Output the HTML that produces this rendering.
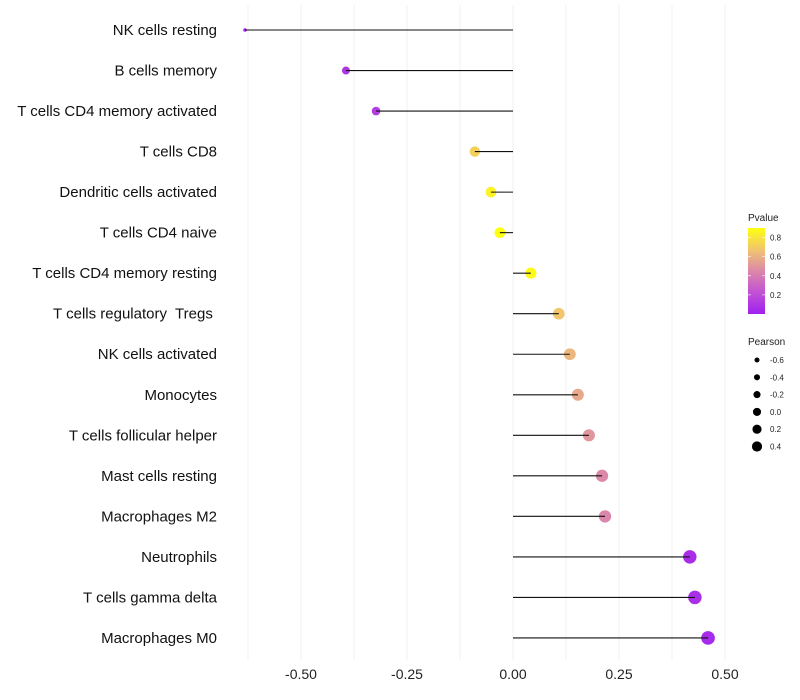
<!DOCTYPE html>
<html><head><meta charset="utf-8"><style>
body{margin:0;background:#fff;font-family:"Liberation Sans",sans-serif}
svg{display:block}
</style></head><body>
<svg id="chart" width="800" height="700">
<defs><linearGradient id="pg" x1="0" y1="1" x2="0" y2="0">
<stop offset="0" stop-color="#a020f0"/><stop offset="0.28" stop-color="#c558d0"/><stop offset="0.5" stop-color="#dc88a8"/><stop offset="0.72" stop-color="#efbe78"/><stop offset="1" stop-color="#ffff10"/>
</linearGradient></defs>
<g id="grid"></g><g id="pts"></g><g id="segs"></g><g id="labels"></g><g id="ticks"></g>
<g>
<text x="748" y="221" font-size="10" fill="#222">Pvalue</text>
<rect x="748" y="228" width="17" height="86" fill="url(#pg)"/>
<g id="pleg"></g>
<text x="748" y="345" font-size="10" fill="#222">Pearson</text>
<g id="sleg"></g>
</g>
</svg>
<script>
const cells=["NK cells resting","B cells memory","T cells CD4 memory activated","T cells CD8","Dendritic cells activated","T cells CD4 naive","T cells CD4 memory resting","T cells regulatory  Tregs ","NK cells activated","Monocytes","T cells follicular helper","Mast cells resting","Macrophages M2","Neutrophils","T cells gamma delta","Macrophages M0"];
const pearson=[-0.632,-0.394,-0.323,-0.090,-0.052,-0.031,0.042,0.108,0.134,0.153,0.179,0.210,0.217,0.417,0.429,0.460];
const pvalue=[0.02,0.1,0.12,0.72,0.85,0.9,0.88,0.68,0.62,0.57,0.5,0.45,0.44,0.06,0.07,0.05];
const xTicks=[-0.5,-0.25,0,0.25,0.5];
const xTickLabels=["-0.50","-0.25","0.00","0.25","0.50"];
const pTicks=[0.2,0.4,0.6,0.8];
const sizeTicks=[-0.6,-0.4,-0.2,0.0,0.2,0.4];
const NS="http://www.w3.org/2000/svg";
const xS=v=>513+v*424;
const yS=i=>30+i*40.53;
const rS=v=>v<-0.55?1.8:Math.sqrt(Math.max(3,16+36*(v+0.394)));
const rL=v=>2.5+(v+0.6)*2.6;
const pY=p=>314-(p-0)/0.9*86;
const stops=[[0,[160,32,240]],[0.25,[197,88,208]],[0.45,[220,136,168]],[0.65,[239,190,120]],[0.9,[255,255,16]]];
function col(p){p=Math.max(0,Math.min(0.9,p));for(let i=1;i<stops.length;i++){if(p<=stops[i][0]){const a=stops[i-1],b=stops[i],t=(p-a[0])/(b[0]-a[0]);return "rgb("+a[1].map((c,k)=>Math.round(c+(b[1][k]-c)*t)).join(",")+")";}}return "rgb(255,255,16)";}
function mk(t,a,parent){const e=document.createElementNS(NS,t);for(const k in a)e.setAttribute(k,a[k]);document.getElementById(parent).appendChild(e);return e;}
for(let v=-0.625;v<=0.5001;v+=0.125){const g=mk("line",{x1:xS(v),x2:xS(v),y1:5,y2:660,stroke:"#f0f0f0","stroke-width":1},"grid");

}
xTicks.forEach((v,i)=>{const t=mk("text",{x:xS(v),y:679,"font-size":14,"text-anchor":"middle",fill:"#222"},"ticks");t.textContent=xTickLabels[i];

});
cells.forEach((c,i)=>{
const y=yS(i);
const p=mk("circle",{cx:xS(pearson[i]),cy:y,r:rS(pearson[i]),fill:col(pvalue[i])},"pts");


const s=mk("line",{x1:xS(0),x2:xS(pearson[i]),y1:y,y2:y,stroke:"#111","stroke-width":1.1},"segs");


const t=mk("text",{x:217,y:y+5,"font-size":15,"text-anchor":"end",fill:"#111"},"labels");t.textContent=c;
t.style.whiteSpace="pre";


});
pTicks.forEach(p=>{const y=pY(p);
mk("line",{x1:748,x2:751,y1:y,y2:y,stroke:"#fff","stroke-width":0.6},"pleg");mk("line",{x1:762,x2:765,y1:y,y2:y,stroke:"#fff","stroke-width":0.6},"pleg");
const t=mk("text",{x:770,y:y+3,"font-size":8,fill:"#222"},"pleg");t.textContent=p.toFixed(1);

});
sizeTicks.forEach((v,i)=>{const y=360+i*17.3;
const c=mk("circle",{cx:757,cy:y,r:rL(v),fill:"#000"},"sleg");


const t=mk("text",{x:770,y:y+3,"font-size":8,fill:"#222"},"sleg");t.textContent=v.toFixed(1);

});
</script>
</body></html>
